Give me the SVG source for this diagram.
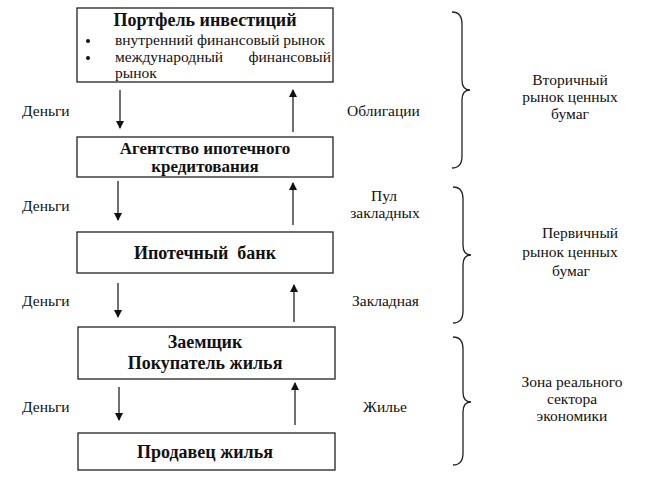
<svg xmlns="http://www.w3.org/2000/svg" width="656" height="490" viewBox="0 0 656 490">
<style>
.box{fill:#fff;stroke:#222;stroke-width:1.3}
.bt{font-family:"Liberation Serif","Times New Roman","DejaVu Serif",serif;font-weight:bold;font-size:18px;fill:#111;text-anchor:middle}
.t{font-family:"Liberation Serif","Times New Roman","DejaVu Serif",serif;font-size:15.5px;fill:#111}
.c{text-anchor:middle}
.ar{stroke:#222;stroke-width:1.3;fill:none;marker-end:url(#ah)}
.br{stroke:#222;stroke-width:1.3;fill:none}
</style>
<defs>
<marker id="ah" markerWidth="8" markerHeight="10" refX="7" refY="4" orient="auto" markerUnits="userSpaceOnUse">
<path d="M0,0 L8,4 L0,8 Z" fill="#111"/>
</marker>
</defs>
<rect width="656" height="490" fill="#fff"/>
<g id="portfolio">
<rect class="box" x="77" y="8" width="256" height="74"/>
<text class="bt" x="205" y="26">Портфель инвестиций</text>
<circle cx="88" cy="41" r="2" fill="#111"/>
<circle cx="88" cy="58" r="2" fill="#111"/>
<text class="t" x="115" y="45" style="font-size:15.5px">внутренний финансовый рынок</text>
<text class="t" x="115" y="62" style="font-size:15.5px">международный</text>
<text class="t" x="331" y="62" text-anchor="end" style="font-size:15.5px">финансовый</text>
<text class="t" x="115" y="78" style="font-size:15.5px">рынок</text>
</g>
<g id="agency">
<rect class="box" x="77" y="137" width="256" height="40"/>
<text class="bt" x="205" y="154" style="font-size:17px">Агентство ипотечного</text>
<text class="bt" x="205" y="172" style="font-size:17px">кредитования</text>
</g>
<g id="bank">
<rect class="box" x="77" y="232" width="256" height="41"/>
<text class="bt" x="205" y="259" xml:space="preserve">Ипотечный  банк</text>
</g>
<g id="borrower">
<rect class="box" x="78" y="327" width="257" height="52"/>
<text class="bt" x="205" y="348">Заемщик</text>
<text class="bt" x="205" y="369">Покупатель жилья</text>
</g>
<g id="seller">
<rect class="box" x="78" y="433" width="257" height="37"/>
<text class="bt" x="205" y="458">Продавец жилья</text>
</g>
<g id="connectors">
<line class="ar" x1="120" y1="90" x2="120" y2="128"/>
<line class="ar" x1="293" y1="132" x2="293" y2="90"/>
<line class="ar" x1="118" y1="181" x2="118" y2="220"/>
<line class="ar" x1="293" y1="225" x2="293" y2="183"/>
<line class="ar" x1="118" y1="283" x2="118" y2="317"/>
<line class="ar" x1="294" y1="322" x2="294" y2="285"/>
<line class="ar" x1="119" y1="387" x2="119" y2="420"/>
<line class="ar" x1="295" y1="425" x2="295" y2="383"/>
<text class="t" x="22" y="116">Деньги</text>
<text class="t" x="347" y="116">Облигации</text>
<text class="t" x="22" y="211">Деньги</text>
<text class="t c" x="384" y="201">Пул</text>
<text class="t c" x="385" y="218">закладных</text>
<text class="t" x="22" y="306">Деньги</text>
<text class="t" x="352" y="306">Закладная</text>
<text class="t" x="22" y="412">Деньги</text>
<text class="t" x="363" y="412">Жилье</text>
</g>
<g id="brace-secondary">
<path class="br" d="M452,12 Q462,12 462,24 L462,80 Q462,90 470,90 Q462,90 462,100 L462,156 Q462,168 452,168"/>
<text class="t c" x="570" y="85">Вторичный</text>
<text class="t c" x="570" y="102">рынок ценных</text>
<text class="t c" x="570" y="119">бумаг</text>
</g>
<g id="brace-primary">
<path class="br" d="M453,187 Q463,187 463,199 L463,245 Q463,255 471,255 Q463,255 463,265 L463,311 Q463,323 453,323"/>
<text class="t c" x="580" y="238">Первичный</text>
<text class="t c" x="570" y="257">рынок ценных</text>
<text class="t c" x="571" y="276">бумаг</text>
</g>
<g id="brace-real">
<path class="br" d="M453,337 Q463,337 463,349 L463,392 Q463,402 471,402 Q463,402 463,412 L463,453 Q463,465 453,465"/>
<text class="t c" x="572" y="387">Зона реального</text>
<text class="t c" x="572" y="404">сектора</text>
<text class="t c" x="572" y="421">экономики</text>
</g>
</svg>
